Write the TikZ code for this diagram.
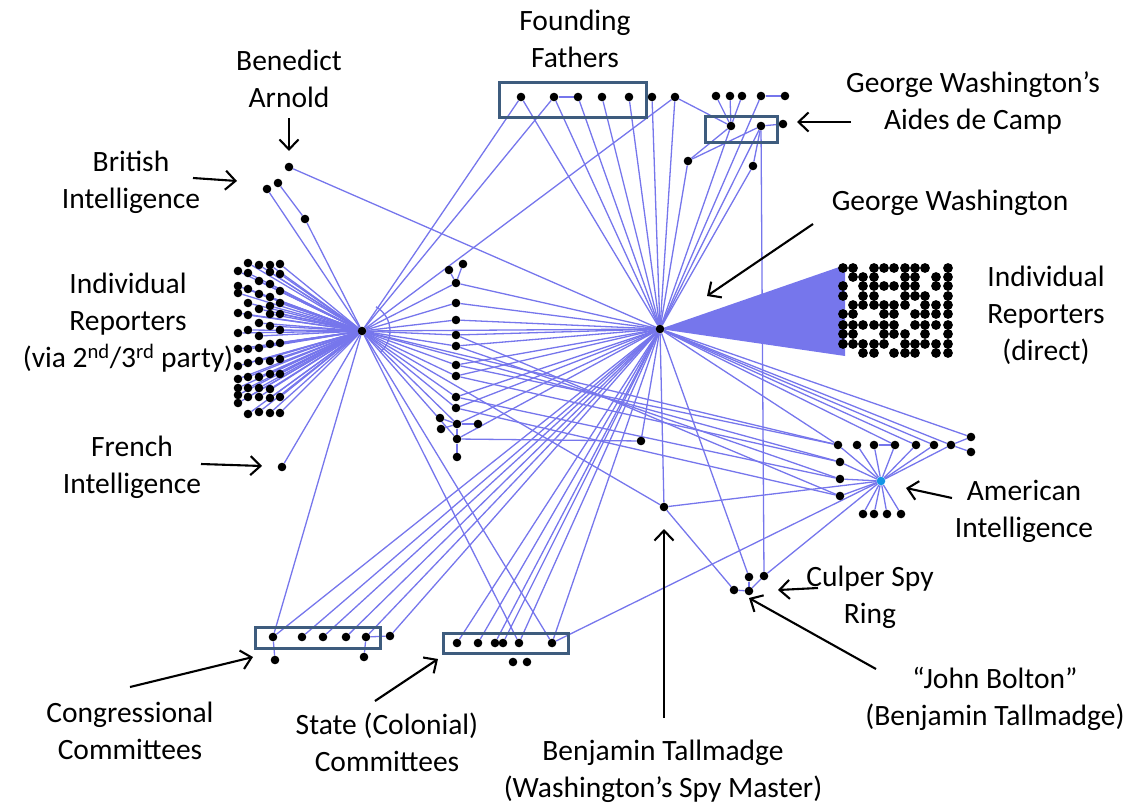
\documentclass[tikz,border=0pt]{standalone}
\usepackage{fontspec}
\setmainfont{Carlito}
\usetikzlibrary{arrows.meta,backgrounds}
\definecolor{edgeblue}{RGB}{118,118,236}
\definecolor{boxblue}{RGB}{62,92,126}
\definecolor{hubblue}{RGB}{20,150,230}
\begin{document}
\begin{tikzpicture}[x=1pt,y=-1pt,
  dot/.style={circle,fill=black,inner sep=0pt,minimum size=8.6pt},
  bigdot/.style={circle,fill=black,inner sep=0pt,minimum size=9.8pt},
  ahubdot/.style={circle,fill=hubblue,inner sep=0pt,minimum size=8.6pt},
  lnk/.style={draw=edgeblue,line width=1.3pt},
  grp/.style={draw=boxblue,line width=3pt,inner sep=0pt},
  lbl/.style={font=\fontsize{29.5}{37}\selectfont,align=center,inner sep=0pt},
  callout/.style={draw=black,line width=2.1pt,-{Straight Barb[length=10pt,width=19pt]}}]
\useasboundingbox (0,0) rectangle (1130,806);

% group boxes
\node[grp,minimum width=147pt,minimum height=35pt] (ffbox) at (572.5,99.5) {};
\node[grp,minimum width=72pt,minimum height=26pt] (aidebox) at (741,129) {};
\node[grp,minimum width=125pt,minimum height=21pt] (congbox) at (317.5,637.5) {};
\node[grp,minimum width=125pt,minimum height=20pt] (statebox) at (505.5,643) {};

% hubs
\node[dot] (L) at (362,331) {};
\node[dot] (G) at (660,329) {};
\node[ahubdot] (A) at (881,481) {};
\node[dot] (T) at (664,507) {};

% British intelligence
\node[dot] (b1) at (289,167) {};
\node[dot] (b2) at (278,183) {};
\node[dot] (b3) at (267,189) {};
\node[dot] (b4) at (305,219) {};
\node[dot] (fr) at (282,467) {};

% Founding fathers
\foreach \x [count=\i] in {521,554,578,602,629,652,675}
  \node[dot] (f\i) at (\x,97) {};
% aides row
\foreach \x [count=\i] in {716,730,742,761,785}
  \node[dot] (t\i) at (\x,96) {};
\node[dot] (a1) at (731,126) {};
\node[dot] (a2) at (761,126) {};
\node[dot] (a3) at (783,124) {};
\node[dot] (a4) at (688,161) {};
\node[dot] (a5) at (753,166) {};

% middle chain
\node[dot] (c1) at (449,270) {};
\node[dot] (c2) at (463,264) {};
\foreach \y [count=\i from 3] in {283,303,320,335,346,365,376,397,408}
  \node[dot] (c\i) at (456,\y) {};
\node[dot] (c12) at (440,418) {};
\node[dot] (c13) at (441,429) {};
\node[dot] (c14) at (457,424) {};
\node[dot] (c15) at (478,424) {};
\node[dot] (c16) at (457,439) {};
\node[dot] (c17) at (457,457) {};
\node[dot] (p) at (641,441) {};

% Culper ring
\node[dot] (u1) at (734,590) {};
\node[dot] (u2) at (749,577) {};
\node[dot] (u3) at (749,591) {};
\node[dot] (u4) at (764,576) {};

% committees
\foreach \x [count=\i] in {273,302,323,346,366}
  \node[dot] (k\i) at (\x,637) {};
\node[dot] (k6) at (390,636) {};
\node[dot] (k7) at (275,660) {};
\node[dot] (k8) at (364,657) {};
\foreach \x [count=\i] in {457,478,495,503,519,552}
  \node[dot] (s\i) at (\x,643) {};
\node[dot] (s7) at (513,662) {};
\node[dot] (s8) at (527,662) {};

% American intelligence
\foreach \x [count=\i] in {838,857,874,895,916,934,951}
  \node[dot] (m\i) at (\x,445) {};
\node[dot] (m8) at (971,437) {};
\node[dot] (m9) at (971,452) {};
\node[dot] (m10) at (840,462) {};
\node[dot] (m11) at (840,479) {};
\node[dot] (m12) at (840,496) {};
\foreach \x [count=\i from 13] in {863,874,887,901}
  \node[dot] (m\i) at (\x,514) {};

% individual reporters via 2nd/3rd party
\foreach \x/\y [count=\i] in {248/263,259/265,270/265,280/264,
  238/271,248/273,270/272,280/274,259/281,270/284,
  238/286,248/289,280/291,238/293,259/294,270/297,
  248/303,280/303,270/306,259/309,238/313,248/315,270/314,280/314,
  259/323,270/326,248/330,280/330,238/333,259/336,
  270/344,280/343,238/349,248/349,259/348,
  280/359,259/361,270/361,248/363,238/366,
  270/374,280/374,248/377,259/377,238/379,
  238/388,248/388,259/388,270/389,
  238/395,248/397,259/397,270/398,280/397,
  238/403,248/414,259/412,270/413,280/413}
  \node[dot] (r\i) at (\x,\y) {};

% individual reporters direct
\foreach \x [count=\i] in {843,853,863,874,884,894,905,915,925,936,948} {
  \foreach \y [count=\j] in {268,277,286,296,305,314,325,334,344,353} {
    \pgfmathtruncatemacro{\k}{(\i==11)?1:(mod(\i*3+\j*5,7)*mod(\i*2+\j*3,8))}
    \ifnum\k=0 \else \node[bigdot] (q-\i-\j) at (\x,\y) {}; \fi
  }
}

\begin{scope}[on background layer]
  \fill[edgeblue] (G.center) -- (845,265) -- (845,356) -- cycle;
  \foreach \i in {1,...,59} \draw[lnk] (r\i) -- (L);
  \draw[lnk] (L) ++(-60:28) arc (-60:50:28);
  \foreach \a/\b in {L/G,L/b3,L/b4,b2/b4,b1/G,L/fr,L/f1,L/f2,L/f7,
      c1/c3,c2/c3,c12/c14,c13/c14,c14/c15,c14/c16,c16/c17,c16/p,p/G,
      f2/f3,t4/t5,a2/a3,t1/a1,t2/a1,t3/a1,f7/a1,a1/a4,a2/a4,a2/a5,
      a5/G,a4/G,a1/G,a2/G,t4/G,a2/u4,
      G/T,T/u1,T/A,L/T,G/u2,u1/u3,u2/u3,u3/u4,u4/A,
      L/k1,k1/k7,k5/k8,k5/k6,L/s6,L/s5,s6/A,
      m3/m4,m7/m8,m7/m9,
      G/m4,G/m5,G/m6,G/m7,G/m8,G/m1,
      L/m1,L/m10,c8/m1,c9/m10,c10/m11,c11/m12,c6/m12,c7/m11}
    \draw[lnk] (\a) -- (\b);
  \foreach \i in {1,...,7} \draw[lnk] (G) -- (f\i);
  \foreach \i in {3,...,11} {\draw[lnk] (L) -- (c\i); \draw[lnk] (G) -- (c\i);}
  \foreach \i in {14,16} {\draw[lnk] (L) -- (c\i); \draw[lnk] (G) -- (c\i);}
  \foreach \i in {1,...,6} {\draw[lnk] (G) -- (k\i); \draw[lnk] (G) -- (s\i);}
  \foreach \i in {1,...,7,10,11,12,13,14,15,16} \draw[lnk] (A) -- (m\i);
\end{scope}

% labels
\node[lbl] (lff) at (575,39) {Founding\\Fathers};
\node[lbl] (lba) at (289,79) {Benedict\\Arnold};
\node[lbl] (lbi) at (131,182) {British\\Intelligence};
\node[lbl] (lad) at (973,103) {George Washington’s\\Aides de Camp};
\node[lbl] (lgw) at (950,203) {George Washington};
\node[lbl] (lir) at (128,323) {Individual\\Reporters\\(via 2\textsuperscript{nd}/3\textsuperscript{rd} party)};
\node[lbl] (lid) at (1046,315) {Individual\\Reporters\\(direct)};
\node[lbl] (lfi) at (132,467) {French\\Intelligence};
\node[lbl] (lai) at (1024,511) {American\\Intelligence};
\node[lbl] (lcs) at (870,597) {Culper Spy\\Ring};
\node[lbl] (ljb) at (995,699) {“John Bolton”\\(Benjamin Tallmadge)};
\node[lbl] (lbt) at (663,771) {Benjamin Tallmadge\\(Washington’s Spy Master)};
\node[lbl] (lsc) at (387,742) {State (Colonial)\\Committees};
\node[lbl] (lcc) at (130,731) {Congressional\\Committees};

% callout arrows
\coordinate (e1a) at (289,118); \coordinate (e1b) at (289,151);
\coordinate (e2a) at (193,178); \coordinate (e2b) at (237,181);
\coordinate (e3a) at (851,122); \coordinate (e3b) at (797,122);
\coordinate (e4a) at (813,224); \coordinate (e4b) at (707,296);
\coordinate (e5a) at (201,464); \coordinate (e5b) at (262,466);
\coordinate (e6a) at (952,498); \coordinate (e6b) at (906,488);
\coordinate (e7a) at (818,588); \coordinate (e7b) at (778,590);
\coordinate (e8a) at (876,669); \coordinate (e8b) at (749,598);
\coordinate (e9a) at (664,718); \coordinate (e9b) at (664,529);
\coordinate (e10a) at (375,701); \coordinate (e10b) at (438,659);
\coordinate (e11a) at (130,687); \coordinate (e11b) at (253,657);
\foreach \i in {1,...,11} \draw[callout] (e\i a) -- (e\i b);
\end{tikzpicture}
\end{document}
